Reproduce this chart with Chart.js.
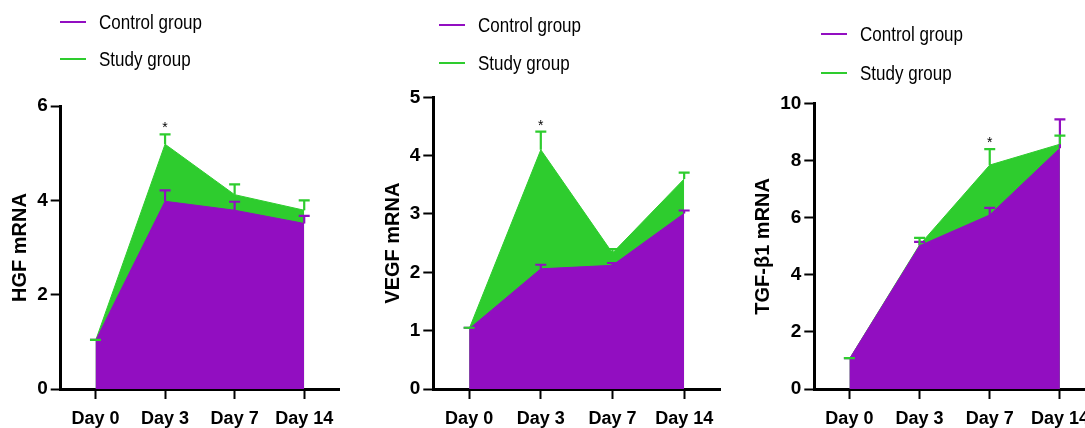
<!DOCTYPE html>
<html>
<head>
<meta charset="utf-8">
<script src="https://cdn.jsdelivr.net/npm/chart.js@4.4.1/dist/chart.umd.min.js"></script>
<style>
  html, body { margin: 0; padding: 0; background: #fff; }
  body { width: 1085px; height: 428px; position: relative; overflow: hidden; font-family: 'Liberation Sans', Arial, sans-serif; }
  .panel { position: absolute; top: 0; height: 428px; }
  .legend-item { position: absolute; height: 24px; }
  .legend-line { position: absolute; left: 0; top: 11px; width: 26px; height: 2px; }
  .legend-text { position: absolute; top: 0; font-size: 20px; line-height: 24px; color: #000; white-space: nowrap; transform: scaleX(0.85); transform-origin: left center; }
</style>
</head>
<body>
<div class="panel" style="left:0;width:360px"><canvas id="hgfChart"></canvas></div>
<div class="panel" style="left:360px;width:365px"><canvas id="vegfChart"></canvas></div>
<div class="panel" style="left:725px;width:380px"><canvas id="tgfChart"></canvas></div>
<div id="legends"></div>

<script>
const days = ['Day 0', 'Day 3', 'Day 7', 'Day 14'];
const seriesNames = ['Control group', 'Study group'];

// HGF mRNA
const hgfControl = [1.02, 3.98, 3.79, 3.51];
const hgfControlErr = [0.02, 0.23, 0.18, 0.16];
const hgfStudy = [1.02, 5.19, 4.12, 3.79];
const hgfStudyErr = [0.02, 0.21, 0.22, 0.21];
const hgfStars = ['', '*', '', ''];
const hgfTicks = [0, 2, 4, 6];

// VEGF mRNA
const vegfControl = [1.03, 2.06, 2.12, 3.01];
const vegfControlErr = [0.02, 0.07, 0.04, 0.05];
const vegfStudy = [1.03, 4.10, 2.33, 3.60];
const vegfStudyErr = [0.02, 0.31, 0.07, 0.11];
const vegfStars = ['', '*', '', ''];
const vegfTicks = [0, 1, 2, 3, 4, 5];

// TGF-β1 mRNA
const tgfControl = [1.05, 5.02, 6.10, 8.44];
const tgfControlErr = [0.03, 0.14, 0.25, 1.01];
const tgfStudy = [1.05, 5.05, 7.85, 8.58];
const tgfStudyErr = [0.03, 0.25, 0.56, 0.30];
const tgfStars = ['', '', '*', ''];
const tgfTicks = [0, 2, 4, 6, 8, 10];

const PURPLE = '#920EC1';
const GREEN = '#2ECC2E';
const FONT = "'Liberation Sans', Arial, sans-serif";

// upper error bars + significance stars, drawn over the filled areas
const errorBarPlugin = {
  id: 'errorBars',
  afterDatasetsDraw(chart, args, opts) {
    const ctx = chart.ctx;
    const yScale = chart.scales.y;
    ctx.save();
    [0, 1].forEach(i => {
      const ds = chart.data.datasets[i];
      const meta = chart.getDatasetMeta(i);
      ctx.strokeStyle = ds.borderColor;
      ctx.lineWidth = 2.2;
      meta.data.forEach((pt, j) => {
        const top = yScale.getPixelForValue(ds.data[j] + ds.errors[j]);
        ctx.beginPath();
        ctx.moveTo(pt.x, pt.y);
        ctx.lineTo(pt.x, top);
        ctx.moveTo(pt.x - 5.5, top);
        ctx.lineTo(pt.x + 5.5, top);
        ctx.stroke();
      });
    });
    const study = chart.data.datasets[1];
    const sMeta = chart.getDatasetMeta(1);
    ctx.fillStyle = '#000';
    ctx.font = '14px ' + FONT;
    ctx.textAlign = 'center';
    ctx.textBaseline = 'alphabetic';
    opts.stars.forEach((s, j) => {
      if (!s) return;
      const top = yScale.getPixelForValue(study.data[j] + study.errors[j]);
      ctx.fillText(s, sMeta.data[j].x, top - 2);
    });
    ctx.restore();
  }
};

function makeChart(id, cfg) {
  const ctx = document.getElementById(id).getContext('2d');
  return new Chart(ctx, {
    type: 'line',
    data: {
      labels: days,
      datasets: [
        { label: seriesNames[0], data: cfg.control, errors: cfg.controlErr, borderColor: PURPLE, backgroundColor: PURPLE, borderWidth: 1, fill: 'origin', pointRadius: 0, tension: 0 },
        { label: seriesNames[1], data: cfg.study, errors: cfg.studyErr, borderColor: GREEN, backgroundColor: GREEN, borderWidth: 1, fill: 'origin', pointRadius: 0, tension: 0 }
      ]
    },
    options: {
      responsive: true,
      maintainAspectRatio: false,
      animation: false,
      layout: { padding: { top: cfg.top, right: cfg.right, left: 0, bottom: 0 } },
      plugins: {
        legend: { display: false },
        tooltip: { enabled: false },
        errorBars: { stars: cfg.stars }
      },
      scales: {
        x: {
          offset: true,
          z: 1,
          border: { color: '#000', width: 3 },
          grid: { drawOnChartArea: false, offset: false, tickLength: 10, tickWidth: 2, tickColor: '#000' },
          ticks: { color: '#000', padding: 9, maxRotation: 0, font: { family: FONT, size: 18, weight: 'bold' } },
          afterFit: s => { s.height = 39; }
        },
        y: {
          min: cfg.ticks[0],
          max: cfg.ticks[cfg.ticks.length - 1],
          z: 1,
          afterBuildTicks: s => { s.ticks = cfg.ticks.map(v => ({ value: v })); },
          border: { color: '#000', width: 3 },
          grid: { drawOnChartArea: false, tickLength: 10, tickWidth: 2, tickColor: '#000' },
          ticks: { color: '#000', padding: 3, font: { family: FONT, size: 19, weight: 'bold' } },
          title: { display: true, text: cfg.title, color: '#000', padding: { top: cfg.titlePad, bottom: 0 }, font: { family: FONT, size: 20, weight: 'bold' } },
          afterFit: s => { s.width = cfg.yWidth; }
        }
      }
    },
    plugins: [errorBarPlugin]
  });
}

makeChart('hgfChart', {
  control: hgfControl, controlErr: hgfControlErr, study: hgfStudy, studyErr: hgfStudyErr,
  stars: hgfStars, ticks: hgfTicks, title: 'HGF mRNA',
  top: 106, right: 21, yWidth: 60.7, titlePad: 8
});
makeChart('vegfChart', {
  control: vegfControl, controlErr: vegfControlErr, study: vegfStudy, studyErr: vegfStudyErr,
  stars: vegfStars, ticks: vegfTicks, title: 'VEGF mRNA',
  top: 97.3, right: 5, yWidth: 73.3, titlePad: 21
});
makeChart('tgfChart', {
  control: tgfControl, controlErr: tgfControlErr, study: tgfStudy, studyErr: tgfStudyErr,
  stars: tgfStars, ticks: tgfTicks, title: 'TGF-β1 mRNA',
  top: 103.7, right: 10, yWidth: 89.3, titlePad: 26
});

// legends: line swatch + label, one block per panel
const legendPos = [
  { x: 60, y: [22, 59] },
  { x: 439, y: [25, 63] },
  { x: 821, y: [34, 73] }
];
const legendColors = [PURPLE, GREEN];
const holder = document.getElementById('legends');
legendPos.forEach(p => {
  seriesNames.forEach((name, i) => {
    const item = document.createElement('div');
    item.className = 'legend-item';
    item.style.left = p.x + 'px';
    item.style.top = (p.y[i] - 12) + 'px';
    item.innerHTML = '<div class="legend-line" style="background:' + legendColors[i] + '"></div>' +
      '<div class="legend-text" style="left:39px">' + name + '</div>';
    holder.appendChild(item);
  });
});
</script>
</body>
</html>
